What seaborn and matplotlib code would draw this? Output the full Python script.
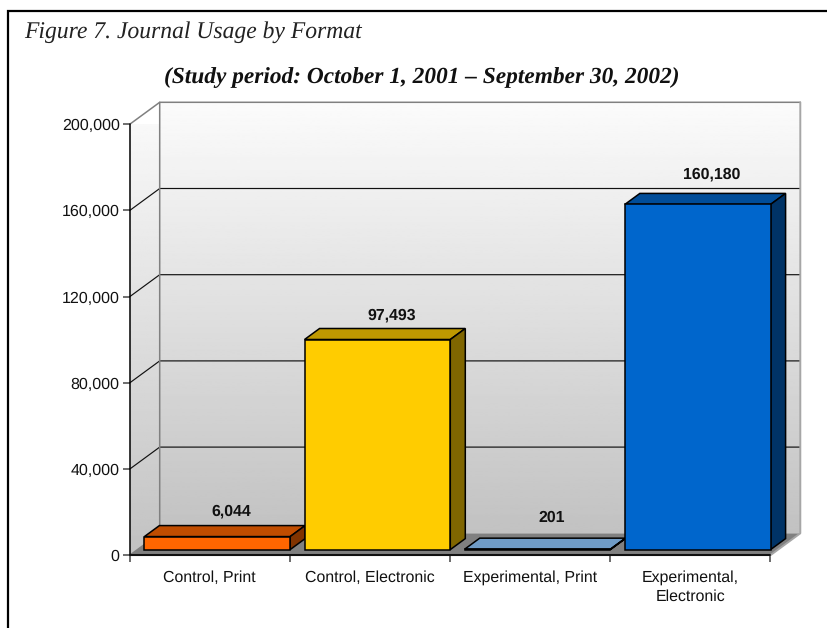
import numpy as np
import matplotlib
matplotlib.use('Agg')
import matplotlib.pyplot as plt
from matplotlib.lines import Line2D
from matplotlib.patches import Polygon
from matplotlib.transforms import Affine2D, IdentityTransform
import seaborn as sns

categories = ['Control, Print', 'Control, Electronic', 'Experimental, Print', 'Experimental,\nElectronic']
usage = [6044, 97493, 201, 160180]
value_labels = ['6,044', '97,493', '201', '160,180']
y_ticks = [0, 40000, 80000, 120000, 160000, 200000]
y_tick_labels = ['0', '40,000', '80,000', '120,000', '160,000', '200,000']

front_colors = ['#ff6600', '#ffcc00', '#6f9bc6', '#0066cc']
top_colors = ['#c04d00', '#bf9900', '#6f9bc6', '#004d99']
side_colors = ['#803300', '#806600', '#6f9bc6', '#003366']

W, H = 827, 628
sns.set_theme(style='white')
plt.rcParams['font.family'] = ['Liberation Sans', 'DejaVu Sans']
plt.rcParams['text.hinting'] = 'none'

fig = plt.figure(figsize=(W / 100, H / 100), dpi=100, facecolor='white')
ax = fig.add_axes([129.7 / W, 1 - 555.3 / H, 640.6 / W, 431 / H])
ax.set_facecolor('none')

sns.barplot(x=categories, y=usage, hue=categories, palette=front_colors, saturation=1,
            width=0.91, edgecolor='black', linewidth=1.1, legend=False, ax=ax, zorder=5)
bars = list(ax.patches)
ax.set_xlim(-0.5, 3.5)
ax.set_ylim(0, 200000)
sns.despine(ax=ax, left=True, bottom=True, top=True, right=True)

# chart depth in pixels, the plot is a fake 3d box
DX, DY = 30, 22
BAR_DX, BAR_DY = 15, 11
SHIFT_X, SHIFT_Y = 7.5, 5.7


def px(x, y, dx=0, dy=0):
    a, b = ax.transData.transform((x, y))
    return (a + dx, b + dy)


def poly(points, **kw):
    p = Polygon(points, closed=True, transform=IdentityTransform(), clip_on=False, **kw)
    ax.add_patch(p)
    return p


x0, x1 = ax.get_xlim()
y0, y1 = ax.get_ylim()

# walls with grey gradient
grad = np.linspace(0.76, 0.985, 256)[:, None]
back = ax.imshow(grad, cmap='gray', vmin=0, vmax=1, origin='lower', aspect='auto',
                 extent=(x0, x1, y0, y1), zorder=0)
back.set_transform(ax.transData + Affine2D().translate(DX, DY))
back.set_clip_on(False)

left_pts = [px(x0, y0), px(x0, y1), px(x0, y1, DX, DY), px(x0, y0, DX, DY)]
left = ax.imshow(grad, cmap='gray', vmin=0, vmax=1, origin='lower', aspect='auto',
                 extent=(x0, x0 + (x1 - x0) * DX / 640.6, y0, y1 + (y1 - y0) * DY / 431), zorder=0)
left.set_clip_path(Polygon(left_pts, closed=True, transform=IdentityTransform()))
ax.set_xlim(x0, x1)
ax.set_ylim(y0, y1)

# floor
poly([px(x0, y0), px(x1, y0), px(x1, y0, DX, DY), px(x0, y0, DX, DY)],
     facecolor='#808080', edgecolor='none', zorder=1)


def wall_line(points, color, lw):
    xs, ys = zip(*points)
    ax.add_line(Line2D(xs, ys, color=color, lw=lw, transform=IdentityTransform(), clip_on=False, zorder=2))


# grid on both walls
for t in y_ticks[1:-1]:
    wall_line([px(x0, t), px(x0, t, DX, DY), px(x1, t, DX, DY)], '#111111', 0.85)
wall_line([px(x0, y0), px(x0, y0, DX, DY), px(x0, y1, DX, DY), px(x1, y1, DX, DY)], '#808080', 1.1)
wall_line([px(x0, y1), px(x0, y1, DX, DY)], '#808080', 1.1)
wall_line([px(x1, y1, DX, DY), px(x1, y0, DX, DY), px(x1, y0)], '#a6a6a6', 1.4)

# front axis lines
wall_line([px(x0, y1), px(x0, y0)], 'black', 1.1)
ax.add_line(Line2D(*zip(px(x0, y0), px(x1, y0)), color='#111111', lw=1.5,
                   transform=IdentityTransform(), clip_on=False, zorder=6))

# move the bars back on the floor and add top and side faces
label_lift = [25, 24.5, 31, 30]
for i, b in enumerate(bars):
    b.set_transform(ax.transData + Affine2D().translate(SHIFT_X, SHIFT_Y))
    b.set_clip_on(False)
    b.set_zorder(5 + i * 0.01)
    xl, xr = b.get_x(), b.get_x() + b.get_width()
    v = b.get_height()
    a = px(xl, v, SHIFT_X, SHIFT_Y)
    c = px(xr, v, SHIFT_X, SHIFT_Y)
    d = px(xr, 0, SHIFT_X, SHIFT_Y)
    poly([a, c, (c[0] + BAR_DX, c[1] + BAR_DY), (a[0] + BAR_DX, a[1] + BAR_DY)],
         facecolor=top_colors[i], edgecolor='black', lw=1.1, zorder=4 + i * 0.01)
    poly([c, d, (d[0] + BAR_DX, d[1] + BAR_DY), (c[0] + BAR_DX, c[1] + BAR_DY)],
         facecolor=side_colors[i], edgecolor='black', lw=1.1, zorder=4 + i * 0.01)
    ax.annotate(value_labels[i], xy=(i, v), xytext=((14 + SHIFT_X) * 0.72, (SHIFT_Y + label_lift[i]) * 0.72),
                textcoords='offset points', ha='center', va='center', fontsize=11.4, fontweight='bold',
                color='#111111', annotation_clip=False, zorder=7)

# ticks sit on category edges, labels in the middle
ax.set_yticks(y_ticks, y_tick_labels)
ax.set_xticks(range(len(categories)), categories)
ax.set_xticks(np.arange(-0.5, 4, 1), minor=True)
ax.tick_params(axis='y', length=5.2, width=1.2, color='#555555', pad=2, labelsize=11.5, left=True, labelcolor='#111111')
ax.tick_params(axis='x', which='major', length=0, pad=10.5, labelsize=11.4, labelcolor='#111111')
ax.tick_params(axis='x', which='minor', length=5.2, width=1.1, color='#444444', bottom=True)
for lab in ax.get_xticklabels():
    lab.set_linespacing(1.37)
ax.set_xlabel('')
ax.set_ylabel('')

# page frame and captions
fig.add_artist(Line2D([7.5 / W, 7.5 / W, 1], [0, 1 - 11 / H, 1 - 11 / H], color='black', lw=1.6, solid_joinstyle='miter'))
fig.text(24 / W, 1 - 38 / H, 'Figure 7. Journal Usage by Format', family=['Liberation Serif'], style='italic',
         fontsize=17, color='#222222', ha='left', va='baseline')
fig.text(422 / W, 1 - 83 / H, '(Study period: October 1, 2001 \u2013 September 30, 2002)', family=['Liberation Serif'],
         style='italic', fontweight='bold', fontsize=16.8, color='#111111', ha='center', va='baseline')

fig.savefig('out.png', dpi=100)
